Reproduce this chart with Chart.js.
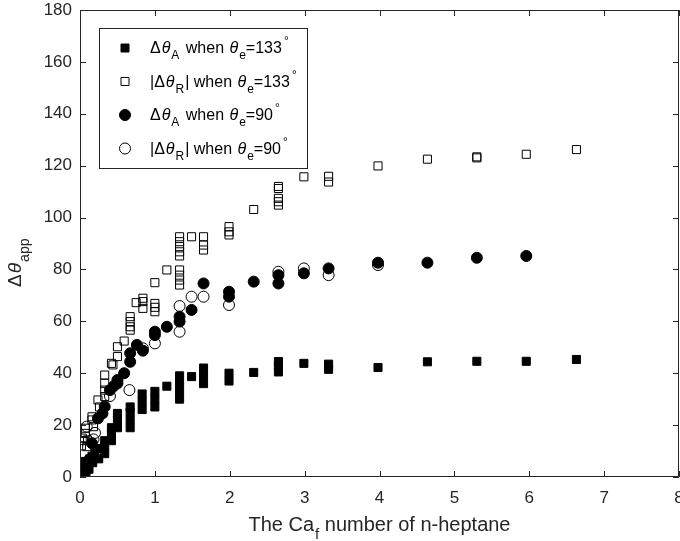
<!DOCTYPE html>
<html>
<head>
<meta charset="utf-8">
<script src="https://cdn.jsdelivr.net/npm/chart.js@4/dist/chart.umd.min.js"></script>
<style>
  html, body { margin: 0; padding: 0; background: #fff; }
  #wrap { width: 680px; height: 541px; }
</style>
</head>
<body>
<div id="wrap"><canvas id="chart" width="680" height="541"></canvas></div>
<script>
// Δθ_A when θe=133° (filled squares)
const sqFillX = [0.02, 0.03, 0.05, 0.07, 0.08, 0.1, 0.12, 0.13, 0.16, 0.17, 0.2, 0.25, 0.25, 0.33, 0.33, 0.33,
  0.42, 0.42, 0.42, 0.5, 0.5, 0.5, 0.67, 0.67, 0.67, 0.67, 0.83, 0.83, 0.83, 1.0, 1.0, 1.0, 1.16,
  1.33, 1.33, 1.33, 1.33, 1.49, 1.65, 1.65, 1.65, 1.99, 1.99, 2.32, 2.65, 2.65, 2.65, 2.99, 3.32, 3.32,
  3.98, 4.64, 5.3, 5.96, 6.63];
const sqFillY = [1, 2.5, 4, 6, 2, 5, 3, 7, 8, 5.5, 9, 11, 7, 9, 12, 14,
  14, 17, 19, 19, 22, 24.5, 19, 22, 25, 27, 26, 29, 32, 27, 30, 33, 35,
  30, 33, 36, 39, 38.7, 36, 39, 42, 37, 40, 40.3, 40.5, 43, 44.5, 43.8, 43.5, 41.5,
  42.2, 44.4, 44.6, 44.6, 45.3];

// |Δθ_R| when θe=133° (open squares)
const sqOpenX = [0.02, 0.03, 0.05, 0.07, 0.07, 0.09, 0.1, 0.16, 0.16, 0.18, 0.24, 0.26, 0.33, 0.33, 0.33, 0.33,
  0.42, 0.44, 0.5, 0.5, 0.59, 0.67, 0.67, 0.67, 0.67, 0.75, 0.84, 0.84, 0.84, 1.0, 1.0, 1.0, 1.0, 1.16,
  1.33, 1.33, 1.33, 1.33, 1.33, 1.33, 1.33, 1.33, 1.33, 1.49, 1.65, 1.65, 1.65, 1.99, 1.99, 1.99, 2.32,
  2.65, 2.65, 2.65, 2.65, 2.65, 2.99, 3.32, 3.32, 3.98, 4.64, 5.3, 5.3, 5.96, 6.63];
const sqOpenY = [12, 15, 14, 18.8, 16.8, 11.7, 14.3, 23.2, 22, 19.4, 29.7, 27, 39.3, 36.1, 33.5, 31,
  43.8, 43.2, 50.2, 46.4, 52.4, 61.8, 59.9, 57.9, 56.6, 67.2, 68.9, 67.6, 65, 74.9, 66.9, 65.4, 63.7, 79.8,
  92.6, 90.7, 88.8, 86.8, 85.2, 79.8, 77.8, 75.9, 74, 92.6, 92.6, 89.4, 87.5, 96.5, 94.5, 93.3, 103.1,
  112, 111.2, 107.4, 106.1, 104.8, 115.7, 115.9, 113.7, 119.9, 122.5, 123.4, 123, 124.4, 126.2];

// Δθ_A when θe=90° (filled circles)
const ciFillX = [0.03, 0.05, 0.07, 0.07, 0.1, 0.16, 0.24, 0.3, 0.33, 0.4, 0.45, 0.5, 0.5, 0.59, 0.67, 0.67,
  0.76, 0.84, 1.0, 1.0, 1.16, 1.33, 1.33, 1.49, 1.65, 1.99, 1.99, 2.32, 2.65, 2.65, 2.99, 3.32,
  3.98, 4.64, 5.3, 5.96];
const ciFillY = [2, 4, 5.3, 2.7, 6, 13, 22.6, 24.5, 27.1, 33.5, 35, 37.4, 36.1, 40, 47.7, 44.4,
  50.9, 48.7, 56, 54.7, 57.9, 61.8, 59.9, 64.4, 74.6, 71.4, 69.5, 75.3, 77.8, 74.6, 78.5, 80.4,
  82.6, 82.6, 84.5, 85.2];

// |Δθ_R| when θe=90° (open circles)
const ciOpenX = [0.09, 0.18, 0.2, 0.4, 0.66, 0.84, 1.0, 1.33, 1.33, 1.49, 1.65, 1.99, 2.65, 2.99, 3.32, 3.98];
const ciOpenY = [19.4, 14.5, 17, 31.2, 33.5, 49.6, 51.5, 65.9, 56, 69.5, 69.5, 66.3, 79.1, 80.4, 77.8, 81.7];

const xTicks = [0, 1, 2, 3, 4, 5, 6, 7, 8];
const yTicks = [0, 20, 40, 60, 80, 100, 120, 140, 160, 180];

const ink = "#262626";
const fontFamily = "'Liberation Sans', Arial, sans-serif";

function pts(xs, ys) {
  return xs.map((x, i) => ({ x: x, y: ys[i] }));
}

// text pieces with italics, subscripts, superscripts and small gaps
function partFont(p, size) {
  const s = p.sub || p.sup ? size * 0.75 : size;
  return (p.it ? "italic " : "") + s + "px " + fontFamily;
}

function drawRich(ctx, x, y, parts, size) {
  let cx = x;
  parts.forEach((p) => {
    ctx.font = partFont(p, size);
    let dy = 0;
    if (p.sub) dy = size * 0.4;
    if (p.sup) dy = -size * 0.5;
    cx += p.pre || 0;
    ctx.fillText(p.t, cx, y + dy);
    cx += ctx.measureText(p.t).width + (p.post || 0);
  });
  return cx - x;
}

function richWidth(ctx, parts, size) {
  let w = 0;
  parts.forEach((p) => {
    ctx.font = partFont(p, size);
    w += ctx.measureText(p.t).width + (p.pre || 0) + (p.post || 0);
  });
  return w;
}

const legendRows = [
  { marker: "sqFill", parts: [{ t: "Δ" }, { t: "θ", it: true, pre: 1 }, { t: "A", sub: true, pre: 1 }, { t: " when ", pre: 2 }, { t: "θ", it: true, pre: 1 }, { t: "e", sub: true, pre: 1 }, { t: "=133" }, { t: "°", sup: true, pre: 2 }] },
  { marker: "sqOpen", parts: [{ t: "|Δ" }, { t: "θ", it: true, pre: 1 }, { t: "R", sub: true, pre: 1 }, { t: "| when ", pre: 1 }, { t: "θ", it: true, pre: 1 }, { t: "e", sub: true, pre: 1 }, { t: "=133" }, { t: "°", sup: true, pre: 2 }] },
  { marker: "ciFill", parts: [{ t: "Δ" }, { t: "θ", it: true, pre: 1 }, { t: "A", sub: true, pre: 1 }, { t: " when ", pre: 2 }, { t: "θ", it: true, pre: 1 }, { t: "e", sub: true, pre: 1 }, { t: "=90" }, { t: "°", sup: true, pre: 2 }] },
  { marker: "ciOpen", parts: [{ t: "|Δ" }, { t: "θ", it: true, pre: 1 }, { t: "R", sub: true, pre: 1 }, { t: "| when ", pre: 1 }, { t: "θ", it: true, pre: 1 }, { t: "e", sub: true, pre: 1 }, { t: "=90" }, { t: "°", sup: true, pre: 2 }] },
];

function drawMarker(ctx, kind, x, y) {
  ctx.save();
  ctx.lineWidth = 1;
  ctx.strokeStyle = "#000";
  ctx.fillStyle = "#000";
  ctx.beginPath();
  if (kind.startsWith("sq")) ctx.rect(x - 4, y - 4, 8, 8);
  else ctx.arc(x, y, 5.5, 0, Math.PI * 2);
  if (kind.endsWith("Fill")) ctx.fill();
  ctx.stroke();
  ctx.restore();
}

const frame = {
  id: "frame",
  afterDraw(chart) {
    const ctx = chart.ctx;
    const a = chart.chartArea;
    const xs = chart.scales.x;
    const ys = chart.scales.y;
    ctx.save();

    // box and inward ticks
    ctx.strokeStyle = ink;
    ctx.lineWidth = 1;
    ctx.beginPath();
    ctx.rect(a.left + 0.5, a.top + 0.5, a.right - a.left - 1, a.bottom - a.top - 1);
    ctx.stroke();
    const tl = 6;
    ctx.beginPath();
    xTicks.forEach((v) => {
      const px = Math.round(xs.getPixelForValue(v)) + 0.5;
      ctx.moveTo(px, a.bottom);
      ctx.lineTo(px, a.bottom - tl);
      ctx.moveTo(px, a.top);
      ctx.lineTo(px, a.top + tl);
    });
    yTicks.forEach((v) => {
      const py = Math.round(ys.getPixelForValue(v)) + 0.5;
      ctx.moveTo(a.left, py);
      ctx.lineTo(a.left + tl, py);
      ctx.moveTo(a.right, py);
      ctx.lineTo(a.right - tl, py);
    });
    ctx.stroke();

    // legend
    const lx = 99.5, ly = 28.5, lw = 208, lh = 140;
    ctx.fillStyle = "#fff";
    ctx.fillRect(lx, ly, lw, lh);
    ctx.strokeStyle = ink;
    ctx.strokeRect(lx, ly, lw, lh);
    ctx.textBaseline = "alphabetic";
    ctx.textAlign = "left";
    legendRows.forEach((r, i) => {
      const cy = 48 + i * 33.5;
      drawMarker(ctx, r.marker, 125, cy);
      ctx.fillStyle = "#000";
      drawRich(ctx, 150, cy + 5, r.parts, 16);
    });

    // axis titles
    ctx.fillStyle = ink;
    const xParts = [{ t: "The Ca" }, { t: "f", sub: true, pre: 1 }, { t: " number of n-heptane" }];
    const xw = richWidth(ctx, xParts, 20);
    drawRich(ctx, (a.left + a.right) / 2 - xw / 2, 531, xParts, 20);

    const yParts = [{ t: "Δ" }, { t: "θ", it: true, pre: 1 }, { t: "app", sub: true, pre: 1 }];
    ctx.translate(21, 287);
    ctx.rotate(-Math.PI / 2);
    drawRich(ctx, 0, 0, yParts, 19);
    ctx.restore();
  },
};

const ctx = document.getElementById("chart").getContext("2d");
new Chart(ctx, {
  type: "scatter",
  data: {
    datasets: [
      { label: "sqFill", data: pts(sqFillX, sqFillY), pointStyle: "rect", pointRadius: 5.7, backgroundColor: "#000", borderColor: "#000", borderWidth: 1, order: 4 },
      { label: "sqOpen", data: pts(sqOpenX, sqOpenY), pointStyle: "rect", pointRadius: 5.7, backgroundColor: "rgba(0,0,0,0)", borderColor: "#000", borderWidth: 1, order: 3 },
      { label: "ciFill", data: pts(ciFillX, ciFillY), pointStyle: "circle", pointRadius: 5.5, backgroundColor: "#000", borderColor: "#000", borderWidth: 1, order: 2 },
      { label: "ciOpen", data: pts(ciOpenX, ciOpenY), pointStyle: "circle", pointRadius: 5.5, backgroundColor: "rgba(0,0,0,0)", borderColor: "#000", borderWidth: 1, order: 1 },
    ],
  },
  options: {
    responsive: false,
    animation: false,
    layout: { autoPadding: false, padding: { top: 10, right: 1, left: 0, bottom: 0 } },
    plugins: { legend: { display: false }, tooltip: { enabled: false } },
    scales: {
      x: {
        type: "linear",
        min: 0,
        max: 8,
        grid: { display: false, drawTicks: false },
        border: { display: false },
        ticks: { stepSize: 1, padding: 11, color: ink, font: { family: fontFamily, size: 17 }, maxRotation: 0 },
        afterFit(scale) {
          scale.height = 64;
          scale.paddingLeft = 0;
          scale.paddingRight = 0;
        },
      },
      y: {
        min: 0,
        max: 180,
        grid: { display: false, drawTicks: false },
        border: { display: false },
        ticks: { stepSize: 20, padding: 8, color: ink, font: { family: fontFamily, size: 17 } },
        afterFit(scale) {
          scale.width = 80;
          scale.paddingTop = 0;
          scale.paddingBottom = 0;
        },
      },
    },
  },
  plugins: [frame],
});
</script>
</body>
</html>
